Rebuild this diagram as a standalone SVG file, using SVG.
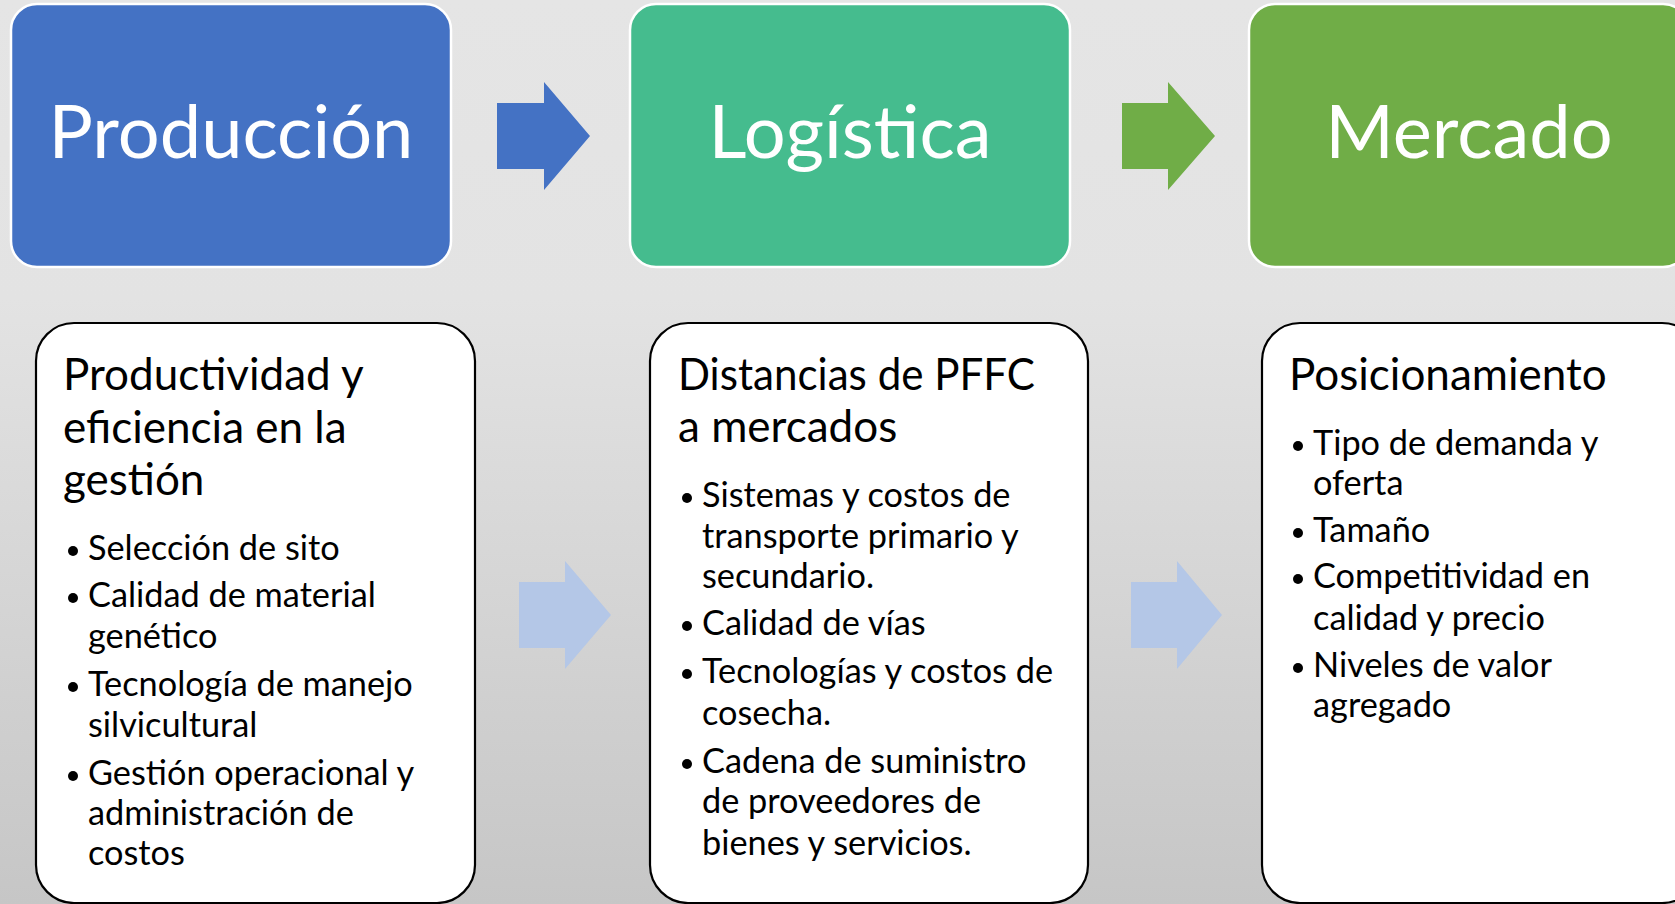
<svg xmlns="http://www.w3.org/2000/svg" width="1675" height="904" viewBox="0 0 1675 904">
<defs>
<linearGradient id="bg" x1="0" y1="0" x2="0" y2="1">
<stop offset="0" stop-color="#e5e5e5"/>
<stop offset="0.33" stop-color="#e3e3e3"/>
<stop offset="1" stop-color="#c6c6c6"/>
</linearGradient>
<style>
.hdr{stroke:#fff;stroke-width:2.5}
.card{fill:#fff;stroke:#000;stroke-width:2.2}
.big{font-family:Lato,"Open Sans",sans-serif;font-size:74px;fill:#fff;text-anchor:middle}
.ttl{font-family:Lato,"Open Sans",sans-serif;font-size:44px;fill:#000}
.bul{font-family:Lato,"Open Sans",sans-serif;font-size:34.3px;fill:#000}
.dot{fill:#000}
</style>
</defs>
<rect x="0" y="0" width="1675" height="904" fill="url(#bg)"/>

<g id="produccion">
<rect class="hdr" x="11" y="4" width="440" height="263" rx="26" fill="#4472c4"/>
<text class="big" x="231" y="158">Producción</text>
</g>
<g id="logistica">
<rect class="hdr" x="630" y="4" width="440" height="263" rx="26" fill="#45bc8e"/>
<text class="big" x="850" y="158">Logística</text>
</g>
<g id="mercado">
<rect class="hdr" x="1249" y="4" width="440" height="263" rx="26" fill="#70ad47"/>
<text class="big" x="1469" y="158">Mercado</text>
</g>

<g id="detalle-produccion">
<rect class="card" x="36" y="323" width="439" height="580" rx="38"/>
<text class="ttl" x="63" y="390">Productividad y</text>
<text class="ttl" x="63" y="443">eficiencia en la</text>
<text class="ttl" x="63" y="495">gestión</text>
<circle class="dot" cx="73" cy="551" r="5"/>
<text class="bul" x="88" y="560">Selección de sito</text>
<circle class="dot" cx="73" cy="598" r="5"/>
<text class="bul" x="88" y="607">Calidad de material</text>
<text class="bul" x="88" y="648">genético</text>
<circle class="dot" cx="73" cy="687" r="5"/>
<text class="bul" x="88" y="696">Tecnología de manejo</text>
<text class="bul" x="88" y="737">silvicultural</text>
<circle class="dot" cx="73" cy="776" r="5"/>
<text class="bul" x="88" y="785">Gestión operacional y</text>
<text class="bul" x="88" y="825">administración de</text>
<text class="bul" x="88" y="865">costos</text>
</g>

<g id="detalle-logistica">
<rect class="card" x="650" y="323" width="438" height="580" rx="38"/>
<text class="ttl" x="678" y="390" textLength="357" lengthAdjust="spacingAndGlyphs">Distancias de PFFC</text>
<text class="ttl" x="678" y="442">a mercados</text>
<circle class="dot" cx="687" cy="498" r="5"/>
<text class="bul" x="702" y="507">Sistemas y costos de</text>
<text class="bul" x="702" y="548">transporte primario y</text>
<text class="bul" x="702" y="588">secundario.</text>
<circle class="dot" cx="687" cy="626" r="5"/>
<text class="bul" x="702" y="635">Calidad de vías</text>
<circle class="dot" cx="687" cy="674" r="5"/>
<text class="bul" x="702" y="683">Tecnologías y costos de</text>
<text class="bul" x="702" y="725">cosecha.</text>
<circle class="dot" cx="687" cy="764" r="5"/>
<text class="bul" x="702" y="773">Cadena de suministro</text>
<text class="bul" x="702" y="813">de proveedores de</text>
<text class="bul" x="702" y="855">bienes y servicios.</text>
</g>

<g id="detalle-mercado">
<rect class="card" x="1262" y="323" width="438" height="580" rx="38"/>
<text class="ttl" x="1289" y="390">Posicionamiento</text>
<circle class="dot" cx="1298" cy="446" r="5"/>
<text class="bul" x="1313" y="455">Tipo de demanda y</text>
<text class="bul" x="1313" y="495">oferta</text>
<circle class="dot" cx="1298" cy="533" r="5"/>
<text class="bul" x="1313" y="542">Tamaño</text>
<circle class="dot" cx="1298" cy="579" r="5"/>
<text class="bul" x="1313" y="588">Competitividad en</text>
<text class="bul" x="1313" y="630">calidad y precio</text>
<circle class="dot" cx="1298" cy="668" r="5"/>
<text class="bul" x="1313" y="677">Niveles de valor</text>
<text class="bul" x="1313" y="717">agregado</text>
</g>

<g id="connectors">
<polygon points="497,103 544,103 544,82 590,136 544,190 544,169 497,169" fill="#4472c4"/>
<polygon points="1122,103 1168,103 1168,82 1215,136 1168,190 1168,169 1122,169" fill="#70ad47"/>
<polygon points="519,582 565,582 565,561 611,615 565,669 565,648 519,648" fill="#b4c7e7"/>
<polygon points="1131,582 1177,582 1177,561 1222,615 1177,669 1177,648 1131,648" fill="#b4c7e7"/>
</g>
</svg>
